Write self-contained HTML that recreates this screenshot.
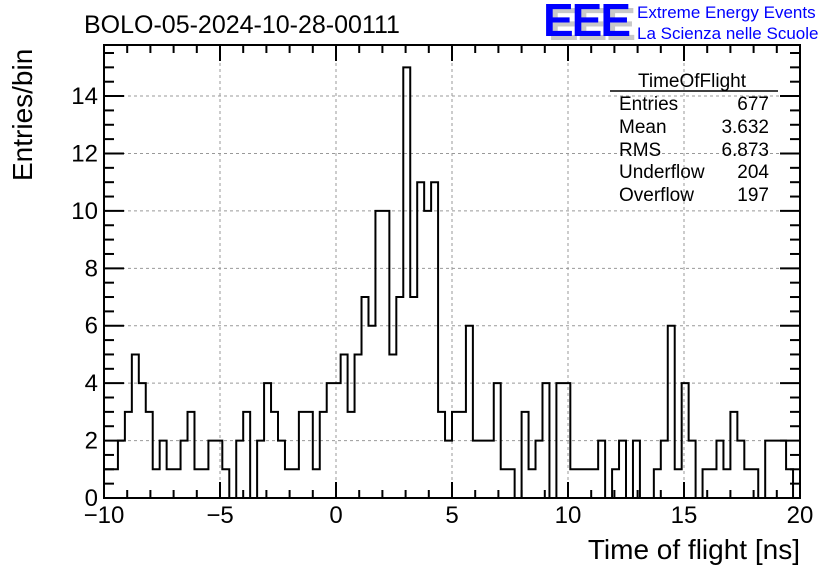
<!DOCTYPE html>
<html><head><meta charset="utf-8">
<style>
body{margin:0;background:#fff;}
svg{display:block;font-family:"Liberation Sans",sans-serif;}
</style></head>
<body>
<svg id="chart" width="836" height="572" viewBox="0 0 836 572" xmlns="http://www.w3.org/2000/svg">
<rect width="836" height="572" fill="#fff"/>
<g id="grid"></g>
<g id="hist"></g>
<g id="axes"></g>
<text x="84" y="33" font-size="25">BOLO-05-2024-10-28-00111</text>
<g>
<text x="548" y="40" font-size="46" font-weight="bold" fill="#c8c8c8" letter-spacing="-2">EEE</text>
<text x="543" y="36" font-size="46" font-weight="bold" fill="#0000ff" letter-spacing="-2">EEE</text>
<text x="637" y="18" font-size="17" fill="#0000ff">Extreme Energy Events</text>
<text x="637" y="39" font-size="17" fill="#0000ff">La Scienza nelle Scuole</text>
</g>
<g font-size="19">
<text x="692" y="87" text-anchor="middle">TimeOfFlight</text>
<line x1="610" y1="91" x2="778" y2="91" stroke="#000" stroke-width="1.5"/>
<text x="619" y="110">Entries</text><text x="769" y="110" text-anchor="end">677</text>
<text x="619" y="133">Mean</text><text x="769" y="133" text-anchor="end">3.632</text>
<text x="619" y="156">RMS</text><text x="769" y="156" text-anchor="end">6.873</text>
<text x="619" y="178">Underflow</text><text x="769" y="178" text-anchor="end">204</text>
<text x="619" y="201">Overflow</text><text x="769" y="201" text-anchor="end">197</text>
</g>
<text x="800" y="559" font-size="28" text-anchor="end">Time of flight [ns]</text>
<text transform="translate(32,181) rotate(-90)" font-size="28" text-anchor="start">Entries/bin</text>
</svg>
<script>
const binCounts = [1,1,2,3,5,4,3,1,2,1, 1,2,3,1,1,2,2,1,0,2, 3,0,2,4,3,2,1,1,3,3, 1,3,4,4,5,3,5,7,6,10, 10,5,7,15,7,11,10,11,3,2, 3,3,6,2,2,2,4,1,1,0, 3,1,2,4,0,4,4,1,1,1, 1,2,0,1,2,0,2,0,0,1, 2,6,1,4,2,0,1,1,2,1, 3,2,1,1,0,2,2,2,1,0];
const xRange = [-10, 20];
const xTickLabels = ["−10","−5","0","5","10","15","20"];
const xTickValues = [-10,-5,0,5,10,15,20];
const yTickValues = [0,2,4,6,8,10,12,14];

const L=104,R=800,T=45,B=498;
const yMax=(B-T)/28.71;
const xs=v=>L+(v-xRange[0])/(xRange[1]-xRange[0])*(R-L);
const ys=v=>B-v/yMax*(B-T);
const NS="http://www.w3.org/2000/svg";
function mk(tag,attrs,parent){const e=document.createElementNS(NS,tag);for(const k in attrs)e.setAttribute(k,attrs[k]);parent.appendChild(e);return e;}
const grid=document.getElementById('grid'),hist=document.getElementById('hist'),axes=document.getElementById('axes');

xTickValues.forEach(v=>{if(v>xRange[0]&&v<xRange[1]){const l=mk('line',{x1:xs(v),x2:xs(v),y1:T,y2:B,stroke:'#999','stroke-dasharray':'3,3','stroke-width':1},grid);

}});
yTickValues.forEach(v=>{if(v>0){const l=mk('line',{x1:L,x2:R,y1:ys(v),y2:ys(v),stroke:'#999','stroke-dasharray':'3,3','stroke-width':1},grid);

}});

const n=binCounts.length, w=(xRange[1]-xRange[0])/n;
let d='M'+xs(xRange[0])+','+ys(0);
binCounts.forEach((c,i)=>{const x0=xs(xRange[0]+i*w),x1=xs(xRange[0]+(i+1)*w);d+=' L'+x0+','+ys(c)+' L'+x1+','+ys(c);});
d+=' L'+xs(xRange[1])+','+ys(0);
const p=mk('path',{d:d,fill:'none',stroke:'#000','stroke-width':2},hist);



const fr=mk('rect',{x:L,y:T,width:R-L,height:B-T,fill:'none',stroke:'#000','stroke-width':2},axes);


for(let v=xRange[0];v<=xRange[1];v++){const major=v%5===0;const len=major?16:8;
mk('line',{x1:xs(v),x2:xs(v),y1:B,y2:B-len,stroke:'#000','stroke-width':2},axes);
mk('line',{x1:xs(v),x2:xs(v),y1:T,y2:T+len,stroke:'#000','stroke-width':2},axes);}
for(let v=0;v<=yMax;v+=0.5){const major=Math.abs(v%2)<1e-9;const len=major?20:10;
mk('line',{x1:L,x2:L+len,y1:ys(v),y2:ys(v),stroke:'#000','stroke-width':2},axes);
mk('line',{x1:R,x2:R-len,y1:ys(v),y2:ys(v),stroke:'#000','stroke-width':2},axes);}
xTickValues.forEach((v,i)=>{const t=mk('text',{x:xs(v),y:523,'font-size':24,'text-anchor':'middle'},axes);t.textContent=xTickLabels[i];

});
yTickValues.forEach(v=>{const t=mk('text',{x:98,y:ys(v)+8,'font-size':24,'text-anchor':'end'},axes);t.textContent=v;

});
</script>
</body></html>
